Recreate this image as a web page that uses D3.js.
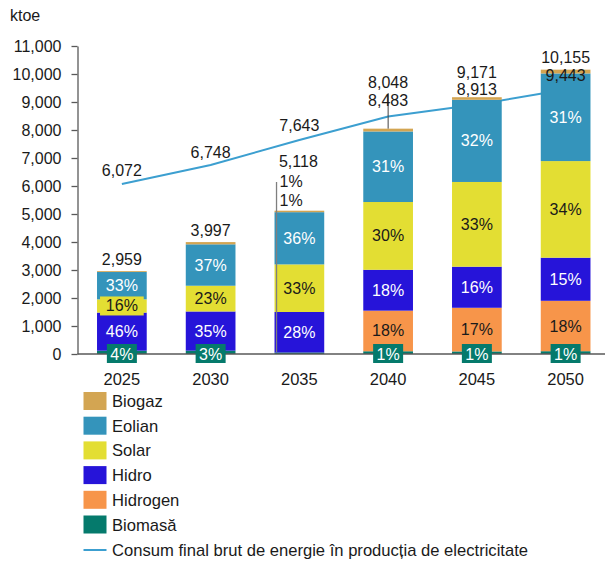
<!DOCTYPE html>
<html><head><meta charset="utf-8">
<script src="https://cdn.jsdelivr.net/npm/d3@7"></script>
<style>body{margin:0;background:#fff}svg{display:block;font-family:"Liberation Sans",Arial,sans-serif}</style>
</head><body><div id="chart"></div>
<script>
const years = ["2025","2030","2035","2040","2045","2050"];
const totals = [2959,3997,5118,8048,9171,10155];
const consumption = [6072,6748,7643,8483,8913,9443];
const biomasa  = [118,120,55,98,92,100];
const hidrogen = [0,0,0,1450,1559,1800];
const hidro    = [1361,1399,1445,1460,1467,1540];
const solar    = [473,919,1700,2420,3026,3450];
const eolian   = [976,1479,1865,2520,2935,3130];
const biogaz   = [31,80,53,100,92,135];
const yTicks = [0,1000,2000,3000,4000,5000,6000,7000,8000,9000,10000,11000];

const seriesNames = ["Biomasă","Hidrogen","Hidro","Solar","Eolian","Biogaz"];
const seriesVals = [biomasa,hidrogen,hidro,solar,eolian,biogaz];
const colors = {"Biomasă":"#057a6c","Hidrogen":"#f7954a","Hidro":"#2614d9","Solar":"#e3de33","Eolian":"#3494bb","Biogaz":"#d3a552"};
const textColors = {"Hidrogen":"#1a1a1a","Hidro":"#ffffff","Solar":"#1a1a1a","Eolian":"#ffffff"};
const lineColor = "#3c9fd0";

const W=605,H=563;
const svg=d3.select("#chart").append("svg").attr("width",W).attr("height",H);
const x=d3.scaleBand().domain(years).range([77.5,610]).paddingInner(0.44).paddingOuter(0.22);
const y=d3.scaleLinear().domain([0,11000]).range([354,46]);
const cx=d=>x(d)+x.bandwidth()/2;

// y axis
const ax=svg.append("g").attr("transform","translate(77.5,0)")
  .call(d3.axisLeft(y).tickValues(yTicks).tickFormat(d3.format(",")).tickSize(6).tickSizeOuter(0).tickPadding(10));
ax.select(".domain").attr("stroke","#595959").attr("stroke-width",1.3);
ax.selectAll(".tick line").attr("stroke","#595959").attr("stroke-width",1.3);
ax.selectAll("text").attr("font-size",16).attr("fill","#1a1a1a").attr("font-family","Liberation Sans, Arial, sans-serif");
svg.append("text").attr("x",10).attr("y",21).attr("font-size",16).attr("fill","#1a1a1a").text("ktoe");

// line
const line=d3.line().x((d,i)=>cx(years[i])).y(d=>y(d));
svg.append("path").datum(consumption).attr("d",line).attr("fill","none").attr("stroke",lineColor).attr("stroke-width",2);

// stacked bars
const table=years.map((yr,i)=>{const o={year:yr};seriesNames.forEach((s,k)=>o[s]=seriesVals[k][i]);return o;});
const stacked=d3.stack().keys(seriesNames)(table);
stacked.forEach(layer=>{
  svg.append("g").selectAll("rect").data(layer).join("rect")
    .attr("x",d=>x(d.data.year)).attr("width",x.bandwidth())
    .attr("y",d=>y(d[1])).attr("height",d=>Math.max(0,y(d[0])-y(d[1])))
    .attr("fill",colors[layer.key]);
});

// leader line 2035
svg.append("line").attr("x1",x("2035")+2).attr("x2",x("2035")+2).attr("y1",182).attr("y2",y(0)-2)
  .attr("stroke","#7f7f7f").attr("stroke-width",1.3);

// baseline
svg.append("line").attr("x1",77.5).attr("x2",605).attr("y1",y(0)).attr("y2",y(0)).attr("stroke","#595959").attr("stroke-width",1.3);

// percentage labels inside
stacked.forEach(layer=>{
  if(!(layer.key in textColors)) return;
  layer.forEach((d,i)=>{
    const v=d[1]-d[0]; if(v<=0) return;
    const pct=Math.round(v/totals[i]*100)+"%";
    const ym=(y(d[0])+y(d[1]))/2;
    const h=y(d[0])-y(d[1]);
    if(h<19){
      svg.append("rect").attr("x",x(d.data.year)+3).attr("width",x.bandwidth()-6)
        .attr("y",ym-9.5).attr("height",19).attr("fill",colors[layer.key]);
    }
    svg.append("text").attr("x",cx(d.data.year)).attr("y",ym+5.5).attr("text-anchor","middle")
      .attr("font-size",16).attr("fill",textColors[layer.key]).text(pct);
  });
});

// biomass boxes at base (except 2035, labelled above)
years.forEach((yr,i)=>{
  const pct=Math.round(biomasa[i]/totals[i]*100)+"%";
  if(yr==="2035") return;
  svg.append("rect").attr("x",cx(yr)-15).attr("y",y(0)-10).attr("width",30).attr("height",19).attr("fill",colors["Biomasă"]);
  svg.append("text").attr("x",cx(yr)).attr("y",y(0)+5.5).attr("text-anchor","middle").attr("font-size",16).attr("fill","#fff").text(pct);
});

// total + line labels
const fmt=d3.format(",");
function lab(t,xx,yy,anchor){svg.append("text").attr("x",xx).attr("y",yy).attr("text-anchor",anchor||"middle").attr("font-size",16).attr("fill","#1a1a1a").text(t);}
[0,1].forEach(i=>{lab(fmt(totals[i]),cx(years[i]),y(totals[i])-6);});
lab(fmt(consumption[0]),cx(years[0]),176);
lab(fmt(consumption[1]),cx(years[1]),158);
lab(fmt(consumption[2]),cx(years[2]),131);
// 2035
lab(fmt(totals[2]),cx(years[2])-1,167);
lab(Math.round(biogaz[2]/totals[2]*100)+"%",x("2035")+5,187,"start");
lab(Math.round(biomasa[2]/totals[2]*100)+"%",x("2035")+5,206,"start");
// 2040
svg.append("line").attr("x1",cx("2040")).attr("x2",cx("2040")).attr("y1",93).attr("y2",y(totals[3])).attr("stroke","#404040").attr("stroke-width",1);
lab(fmt(totals[3]),cx("2040"),87.5);
lab(fmt(consumption[3]),cx("2040"),106);
// 2045
lab(fmt(totals[4]),cx("2045"),77.5);
lab(fmt(consumption[4]),cx("2045"),95);
// 2050
lab(fmt(totals[5]),cx("2050"),62.5);
lab(fmt(consumption[5]),cx("2050"),81);

// year labels
years.forEach(yr=>{svg.append("text").attr("x",cx(yr)).attr("y",385).attr("text-anchor","middle")
  .attr("font-size",16.5).attr("fill","#1a1a1a").text(yr);});

// legend
const legendOrder=["Biogaz","Eolian","Solar","Hidro","Hidrogen","Biomasă"];
legendOrder.forEach((s,k)=>{
  const top=392+k*24.7;
  svg.append("rect").attr("x",83.5).attr("y",top).attr("width",23).attr("height",18).attr("fill",colors[s]);
  svg.append("text").attr("x",112).attr("y",top+15).attr("font-size",16.6).attr("fill","#1a1a1a").text(s);
});
svg.append("line").attr("x1",83.5).attr("x2",106.5).attr("y1",550).attr("y2",550).attr("stroke",lineColor).attr("stroke-width",2);
svg.append("text").attr("x",112).attr("y",555.5).attr("font-size",16.6).attr("fill","#1a1a1a").text("Consum final brut de energie în producția de electricitate");
</script></body></html>
